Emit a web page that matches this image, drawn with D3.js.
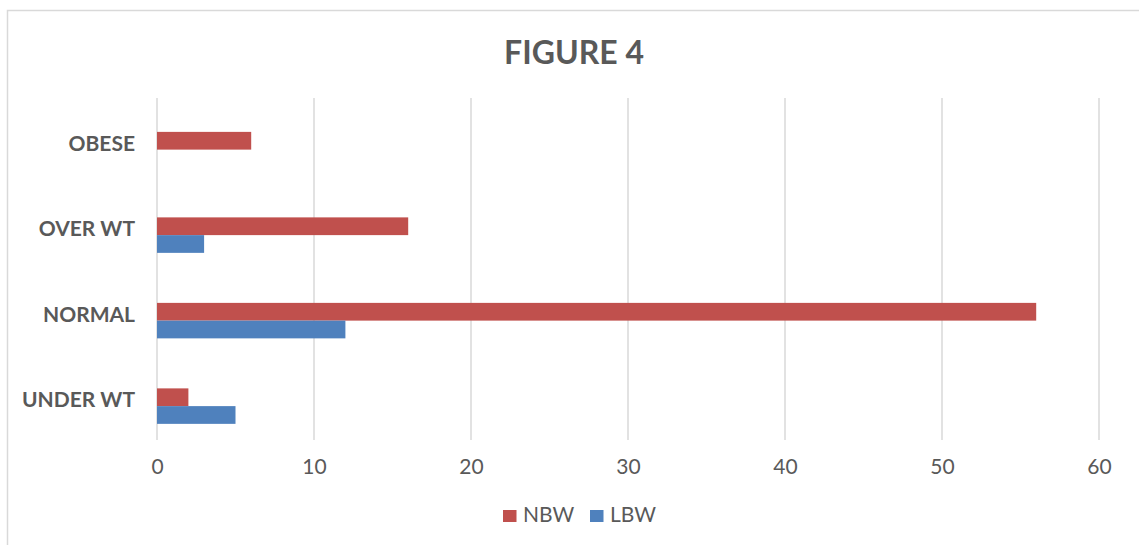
<!DOCTYPE html>
<html>
<head>
<meta charset="utf-8">
<script src="https://cdn.jsdelivr.net/npm/d3@7"></script>
<style>
  body { margin: 0; background: #fff; }
  svg { display: block; font-family: Lato, "Open Sans", sans-serif; }
</style>
</head>
<body>
<svg id="chart" width="1139" height="545"></svg>
<script>
// data
var categories = ["OBESE", "OVER WT", "NORMAL", "UNDER WT"];
var nbw = [6, 16, 56, 2];
var lbw = [0, 3, 12, 5];
var seriesNames = ["NBW", "LBW"];
var seriesColors = ["#C0504D", "#4F81BD"];
var xTicks = [0, 10, 20, 30, 40, 50, 60];

var svg = d3.select("#chart"),
    plot = {left: 157, right: 1099, top: 98, bottom: 440};

var textColor = "#595959";

svg.append("rect")
    .attr("x", 7.5).attr("y", 10.5)
    .attr("width", 1140).attr("height", 545)
    .attr("fill", "#fff")
    .attr("stroke", "#d9d9d9")
    .attr("stroke-width", 1.5);

svg.append("text")
    .attr("x", 574).attr("y", 64)
    .attr("text-anchor", "middle")
    .attr("font-size", 32)
    .attr("font-weight", "bold")
    .attr("fill", textColor)
    .text("FIGURE 4");

var x = d3.scaleLinear().domain([0, 60]).range([plot.left, plot.right]);
var y = d3.scaleBand().domain(categories).range([plot.top, plot.bottom]);

// Excel-style gap: three slots (the top one empty), gap width 182%
var bw = y.bandwidth(),
    w = bw / (3 + 1.82),
    gap = bw - 3 * w;
var inner = d3.scaleBand().domain(["_", "NBW", "LBW"])
    .range([gap / 2, bw - gap / 2]);

// grid
svg.append("g").selectAll("line")
  .data(xTicks)
  .enter().append("line")
    .attr("x1", function(d) { return x(d); })
    .attr("x2", function(d) { return x(d); })
    .attr("y1", plot.top).attr("y2", plot.bottom)
    .attr("stroke", "#d9d9d9")
    .attr("stroke-width", 1.5);

// x axis labels
var xAxis = svg.append("g")
    .attr("transform", "translate(0," + (plot.bottom + 12) + ")")
    .call(d3.axisBottom(x).tickValues(xTicks).tickSize(0).tickPadding(0));
xAxis.select(".domain").remove();
xAxis.selectAll("text")
    .attr("dy", "1.05em")
    .attr("font-size", 21)
    .attr("font-family", "Lato, 'Open Sans', sans-serif")
    .attr("fill", textColor);

// y axis labels
var yAxis = svg.append("g")
    .attr("transform", "translate(135,0)")
    .call(d3.axisLeft(y).tickSize(0).tickPadding(0));
yAxis.select(".domain").remove();
yAxis.selectAll(".tick").attr("transform", function(d) {
  return "translate(0," + (y(d) + bw / 2 + 10) + ")";
});
yAxis.selectAll("text")
    .attr("dy", 0)
    .attr("font-size", 21)
    .attr("font-weight", "bold")
    .attr("font-family", "Lato, 'Open Sans', sans-serif")
    .attr("fill", textColor);

// bars
var rows = categories.map(function(c, i) {
  return {cat: c, values: [nbw[i], lbw[i]]};
});

var groups = svg.append("g").selectAll("g")
  .data(rows)
  .enter().append("g")
    .attr("transform", function(d) { return "translate(0," + y(d.cat) + ")"; });

groups.selectAll("rect")
  .data(function(d) {
    return d.values.map(function(v, j) { return {name: seriesNames[j], value: v, color: seriesColors[j]}; });
  })
  .enter().append("rect")
    .attr("x", x(0))
    .attr("y", function(d) { return inner(d.name); })
    .attr("width", function(d) { return x(d.value) - x(0); })
    .attr("height", inner.bandwidth())
    .attr("fill", function(d) { return d.color; });

// legend
var legend = svg.append("g").selectAll("g")
  .data(seriesNames)
  .enter().append("g")
    .attr("transform", function(d, i) { return "translate(" + (503 + i * 87) + ",510)"; });

legend.append("rect")
    .attr("width", 13.5).attr("height", 12)
    .attr("fill", function(d, i) { return seriesColors[i]; });

legend.append("text")
    .attr("x", 20).attr("y", 12)
    .attr("font-size", 21)
    .attr("fill", textColor)
    .text(function(d) { return d; });
</script>
</body>
</html>
